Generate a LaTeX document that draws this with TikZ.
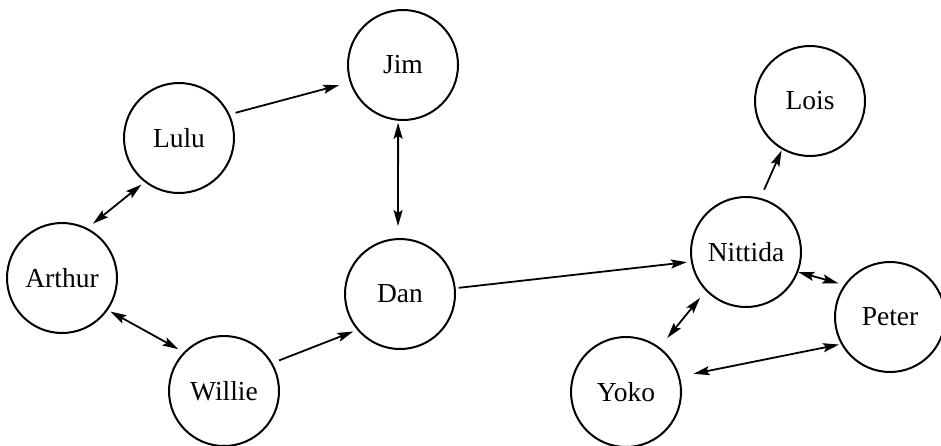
\documentclass[tikz,border=0pt]{standalone}
\usepackage{fontspec}
\setmainfont{Liberation Serif}
\usetikzlibrary{arrows.meta}
\begin{document}
\begin{tikzpicture}[x=1pt,y=-1pt,
  person/.style={circle,draw,line width=2pt,minimum size=110pt,inner sep=0pt,
    font=\fontsize{27.5}{30}\selectfont},
  edge/.style={line width=1.8pt,-{Stealth[length=16pt,width=9pt,inset=3pt]}},
  bi/.style={line width=1.8pt,{Stealth[length=16pt,width=9pt,inset=3pt]}-{Stealth[length=16pt,width=9pt,inset=3pt]}}]
\useasboundingbox (0,0) rectangle (941,445);
\node[person] (Jim) at (403,65) {Jim};
\node[person] (Lulu) at (179,138) {Lulu};
\node[person] (Arthur) at (62,278) {Arthur};
\node[person] (Dan) at (400,294) {Dan};
\node[person] (Willie) at (224,391) {Willie};
\node[person] (Nittida) at (746,252) {Nittida};
\node[person] (Lois) at (810,101) {Lois};
\node[person] (Peter) at (890,317) {Peter};
\node[person] (Yoko) at (626,392) {Yoko};

\draw[edge,shorten <=6pt,shorten >=11pt] (Lulu.25) -- (Jim.198);
\draw[bi,shorten <=4pt,shorten >=7pt] (Lulu.232) -- (Arthur.63);
\draw[bi,shorten <=2pt,shorten >=12pt] (Jim.265) -- (Dan.92);
\draw[bi,shorten <=3pt,shorten >=6pt] (Arthur.325) -- (Willie.136);
\draw[edge,shorten <=7pt,shorten >=4pt] (Willie.30) -- (Dan.220);
\draw[edge,shorten <=3pt,shorten >=4pt] (Dan.6) -- (Nittida.190);
\draw[edge,shorten <=9pt,shorten >=1pt] (Nittida.75) -- (Lois.240);
\draw[bi,shorten <=0pt,shorten >=6pt] (Nittida.339) -- (Peter.145);
\draw[bi,shorten <=9pt,shorten >=12pt] (Nittida.224) -- (Yoko.53);
\draw[bi,shorten <=14pt,shorten >=2pt] (Yoko.16) -- (Peter.209);
\end{tikzpicture}
\end{document}
